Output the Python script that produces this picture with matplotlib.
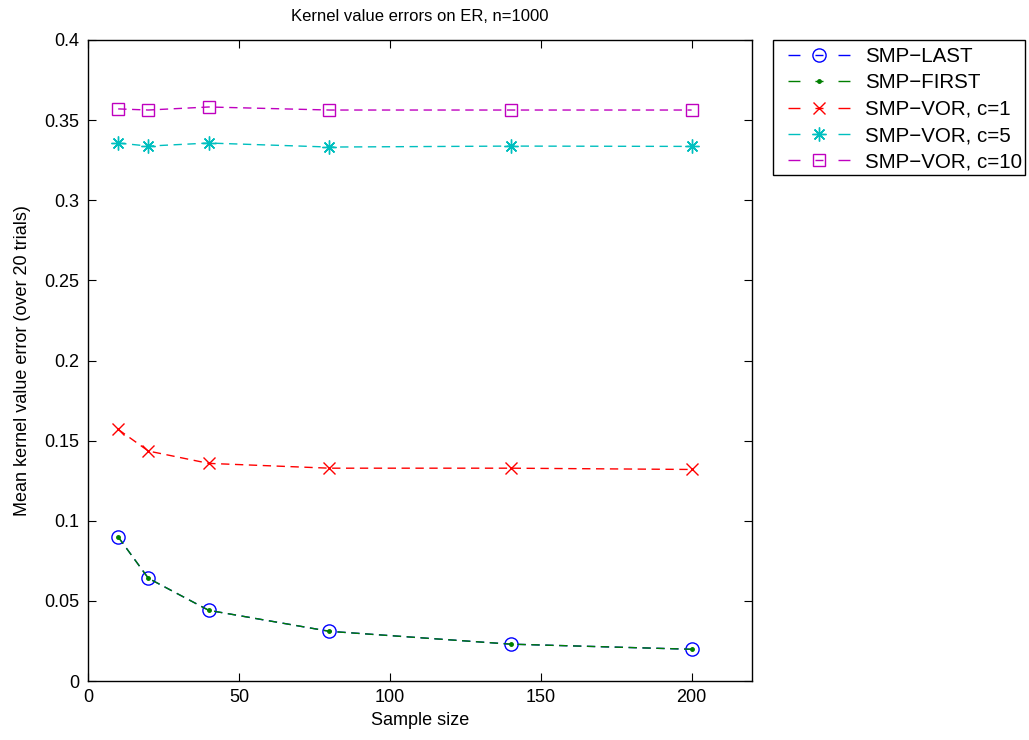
import matplotlib
matplotlib.use("Agg")
import matplotlib.pyplot as plt
from matplotlib.legend_handler import HandlerLine2D
from matplotlib.patches import Rectangle

plt.rcParams['font.family'] = ['Liberation Sans', 'DejaVu Sans']

sample_sizes = [10, 20, 40, 80, 140, 200]
smp_last = [0.0899, 0.0641, 0.0441, 0.0310, 0.0230, 0.0198]
smp_first = [0.0899, 0.0641, 0.0441, 0.0310, 0.0230, 0.0198]
vor_c1 = [0.1570, 0.1435, 0.1358, 0.1328, 0.1328, 0.1320]
vor_c5 = [0.3357, 0.3338, 0.3357, 0.3332, 0.3338, 0.3336]
vor_c10 = [0.3570, 0.3563, 0.3582, 0.3563, 0.3563, 0.3563]

labels = ['SMP\u2212LAST', 'SMP\u2212FIRST', 'SMP\u2212VOR, c=1', 'SMP\u2212VOR, c=5', 'SMP\u2212VOR, c=10']

W, H = 1029, 740
fig = plt.figure(figsize=(W / 100, H / 100), dpi=100)
ax = fig.add_axes([88/W, 59/H, (752-88)/W, (681-40)/H])

dash = (0, (6, 4))
ax.plot(sample_sizes, smp_last, color='#0000ff', linestyle=dash, lw=1.0, marker='o',
        markersize=9.5, markerfacecolor='none', markeredgecolor='#0000ff', markeredgewidth=1.0, label=labels[0])
ax.plot(sample_sizes, smp_first, color='#007f00', linestyle=dash, lw=1.0, marker='.',
        markersize=5, markerfacecolor='#007f00', markeredgecolor='#007f00', label=labels[1])
ax.plot(sample_sizes, vor_c1, color='#ff0000', linestyle=dash, lw=1.0, marker='x',
        markersize=8, markeredgewidth=1.0, label=labels[2])
ax.plot(sample_sizes, vor_c5, color='#00bfbf', linestyle=dash, lw=1.0, marker=(8, 2, 0),
        markersize=10, markeredgewidth=1.0, label=labels[3])
ax.plot(sample_sizes, vor_c10, color='#bf00bf', linestyle=dash, lw=1.0, marker='s',
        markersize=8.5, markerfacecolor='none', markeredgewidth=1.0, label=labels[4])

ax.set_xlim(0, 220)
ax.set_ylim(0, 0.4)
ax.set_xticks([0, 50, 100, 150, 200])
ax.set_yticks([0, 0.05, 0.1, 0.15, 0.2, 0.25, 0.3, 0.35, 0.4])
ax.set_yticklabels(['0', '0.05', '0.1', '0.15', '0.2', '0.25', '0.3', '0.35', '0.4'])
ax.tick_params(direction='in', top=True, right=True, labelsize=13, length=6, pad=6)
for s in ax.spines.values():
    s.set_linewidth(1.0)

ax.set_xlabel('Sample size', fontsize=13, labelpad=4)
ax.set_ylabel('Mean kernel value error (over 20 trials)', fontsize=13, labelpad=10)
ax.set_title('Kernel value errors on ER, n=1000', fontsize=12, pad=14)


def legend_dash(legline, orig):
    legline.update_from(orig)
    legline.set_linestyle((0, (8.6, 10.8, 5.8, 10.8, 8.6, 60)))


handler = HandlerLine2D(update_func=legend_dash)
handles, lbls = ax.get_legend_handles_labels()
leg = fig.legend(handles, lbls, loc='upper left', bbox_to_anchor=(788/W, 1 - 47/H), fontsize=14.8,
                 handlelength=3.02, frameon=False,
                 borderpad=0, labelspacing=0.36, handletextpad=0.72, borderaxespad=0,
                 handler_map={h: handler for h in handles})

fig.patches.append(Rectangle((773/W, 1 - 175/H), (1025-773)/W, (175-40)/H,
                             transform=fig.transFigure, fill=False, edgecolor='black', lw=1.0, zorder=1))

fig.savefig('out.png', dpi=100)
